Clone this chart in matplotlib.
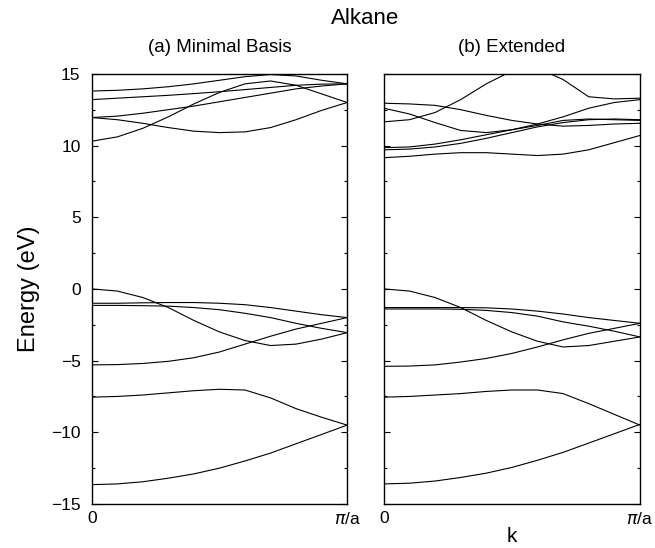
import numpy as np
import matplotlib.pyplot as plt
from matplotlib.ticker import MultipleLocator

plt.rcParams['font.family'] = ['Liberation Sans', 'DejaVu Sans']

# k points, as a fraction of pi/a
k = [0.0, 0.1, 0.2, 0.3, 0.4, 0.5, 0.6, 0.7, 0.8, 0.9, 1.0]

# (a) minimal basis bands (eV)
min_bands = [
    [13.8, 13.85, 13.95, 14.1, 14.3, 14.55, 14.8, 14.95, 14.85, 14.55, 14.3],
    [13.2, 13.3, 13.4, 13.5, 13.62, 13.75, 13.9, 14.05, 14.2, 14.28, 14.3],
    [11.95, 12.05, 12.25, 12.5, 12.75, 13.05, 13.35, 13.65, 13.95, 14.15, 14.3],
    [11.95, 11.8, 11.55, 11.25, 11.0, 10.9, 10.95, 11.25, 11.8, 12.45, 13.0],
    [10.3, 10.6, 11.2, 12.0, 12.9, 13.7, 14.3, 14.5, 14.2, 13.6, 13.0],
    [0.0, -0.15, -0.6, -1.3, -2.2, -3.0, -3.6, -3.95, -3.85, -3.5, -3.05],
    [-1.0, -1.0, -0.97, -0.95, -0.95, -1.0, -1.1, -1.3, -1.55, -1.8, -2.0],
    [-1.15, -1.15, -1.17, -1.2, -1.3, -1.45, -1.7, -2.0, -2.4, -2.75, -3.05],
    [-5.3, -5.28, -5.2, -5.05, -4.8, -4.4, -3.85, -3.3, -2.8, -2.4, -2.0],
    [-7.55, -7.5, -7.4, -7.25, -7.1, -7.0, -7.05, -7.6, -8.35, -8.95, -9.5],
    [-13.65, -13.6, -13.45, -13.2, -12.9, -12.5, -12.0, -11.45, -10.8, -10.15, -9.5],
]

# (b) extended basis bands (eV)
ext_bands = [
    [11.65, 11.8, 12.3, 13.2, 14.3, 15.2, 15.4, 14.6, 13.4, 13.25, 13.3],
    [12.95, 12.9, 12.8, 12.5, 12.1, 11.75, 11.5, 11.35, 11.4, 11.5, 11.55],
    [12.6, 12.2, 11.6, 11.05, 10.9, 11.1, 11.4, 11.75, 11.85, 11.8, 11.75],
    [9.85, 9.9, 10.1, 10.4, 10.75, 11.1, 11.5, 12.0, 12.6, 13.0, 13.2],
    [9.7, 9.75, 9.9, 10.15, 10.5, 10.9, 11.3, 11.6, 11.8, 11.85, 11.8],
    [9.15, 9.25, 9.4, 9.5, 9.5, 9.4, 9.3, 9.4, 9.7, 10.2, 10.7],
    [0.0, -0.15, -0.6, -1.3, -2.2, -3.0, -3.65, -4.05, -3.95, -3.65, -3.35],
    [-1.3, -1.3, -1.3, -1.3, -1.32, -1.4, -1.55, -1.75, -2.0, -2.2, -2.4],
    [-1.4, -1.4, -1.4, -1.42, -1.5, -1.65, -1.9, -2.3, -2.6, -2.95, -3.35],
    [-5.4, -5.38, -5.3, -5.1, -4.85, -4.5, -4.05, -3.55, -3.1, -2.75, -2.4],
    [-7.55, -7.5, -7.4, -7.3, -7.15, -7.05, -7.05, -7.3, -8.0, -8.75, -9.5],
    [-13.6, -13.55, -13.4, -13.15, -12.85, -12.45, -11.95, -11.4, -10.75, -10.1, -9.45],
]

xtick_labels = ['0', r'$\pi$/a']

fig = plt.figure(figsize=(6.55, 5.48), dpi=100)
ax1 = fig.add_axes([0.140, 0.0803, 0.390, 0.785])
ax2 = fig.add_axes([0.586, 0.0803, 0.391, 0.785])

for ax, bands in [(ax1, min_bands), (ax2, ext_bands)]:
    for b in bands:
        ax.plot(k, b, color='black', linewidth=0.8)
    ax.set_xlim(0, 1)
    ax.set_ylim(-15, 15)
    ax.yaxis.set_major_locator(MultipleLocator(5))
    ax.yaxis.set_minor_locator(MultipleLocator(2.5))
    ax.tick_params(axis='y', which='both', direction='in', left=True, right=True)
    ax.tick_params(axis='y', which='major', length=4, width=0.8)
    ax.tick_params(axis='y', which='minor', length=2, width=0.8)
    ax.set_xticks([0, 1])
    ax.set_xticklabels(xtick_labels)
    ax.tick_params(axis='x', length=0, pad=5, labelsize=12.5)
    for s in ax.spines.values():
        s.set_linewidth(1.0)

ax1.tick_params(axis='y', labelsize=12.5, pad=8)
ax2.tick_params(axis='y', labelleft=False)

ax1.set_ylabel('Energy (eV)', fontsize=17, labelpad=8)
ax2.set_xlabel('k', fontsize=15, labelpad=0)

fig.text(0.558, 0.967, 'Alkane', ha='center', va='center', fontsize=16)
fig.text(0.140 + 0.390 / 2, 0.914, '(a) Minimal Basis', ha='center', va='center', fontsize=13.5)
fig.text(0.586 + 0.391 / 2, 0.914, '(b) Extended', ha='center', va='center', fontsize=13.5)

fig.savefig('out.png', dpi=100)
